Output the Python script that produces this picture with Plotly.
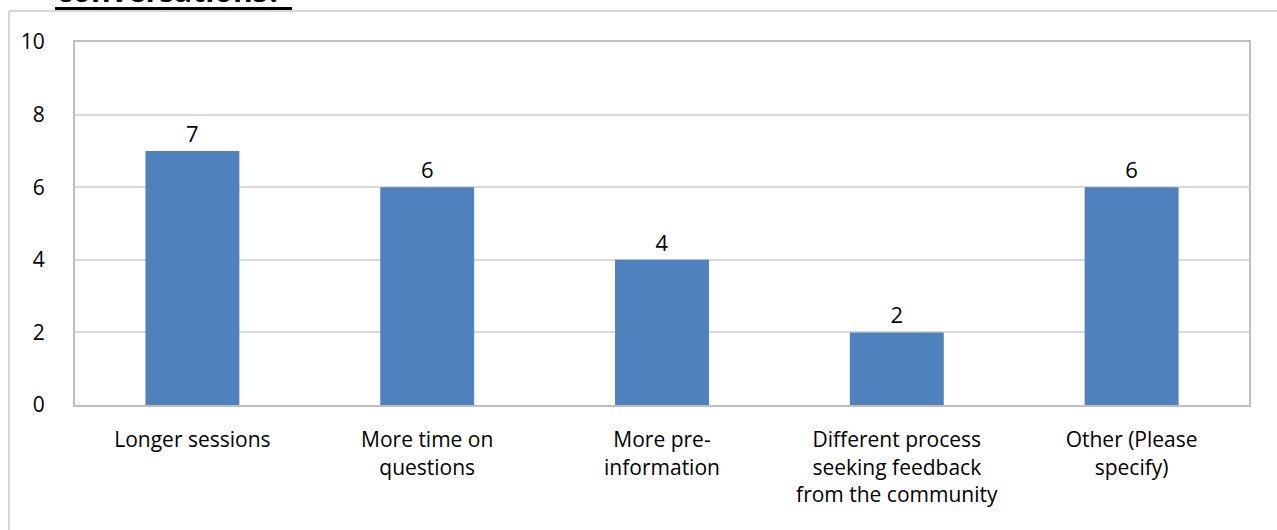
import plotly.graph_objects as go

categories = ["Longer sessions", "More time on<br>questions", "More pre-<br>information",
              "Different process<br>seeking feedback<br>from the community", "Other (Please<br>specify)"]
values = [7, 6, 4, 2, 6]
y_ticks = [0, 2, 4, 6, 8, 10]

W, H = 1277, 530
L, R, T, B = 75, 1249, 42, 405
pw, ph = R - L, B - T

def px(x):
    return (x - L) / pw

def py(y):
    return (B - y) / ph

FONT = "Open Sans"

fig = go.Figure(go.Bar(
    x=categories, y=values, width=0.4, marker=dict(color="#4F81BD", line=dict(width=0)),
    text=values, textposition="outside", cliponaxis=False,
    textfont=dict(family=FONT, size=22, color="#000000"),
))

fig.update_layout(
    width=W, height=H,
    margin=dict(l=L, r=W - R, t=T, b=H - B, pad=0),
    paper_bgcolor="white", plot_bgcolor="white",
    showlegend=False,
    bargap=0.6,
    font=dict(family=FONT, size=22, color="#000000"),
    xaxis=dict(showgrid=False, showline=True, linecolor="#BFBFBF", linewidth=2, mirror=True,
               ticks="", tickfont=dict(family=FONT, size=21), ticklabelstandoff=15,
               tickangle=0),
    yaxis=dict(range=[0, 10], tickvals=y_ticks, showgrid=True, gridcolor="#D9D9D9", gridwidth=1.5,
               showline=True, linecolor="#BFBFBF", linewidth=2, mirror=True, zeroline=False,
               ticks="", tickfont=dict(family=FONT, size=21), ticklabelstandoff=24),
    shapes=[
        # outer chart-area frame
        dict(type="line", xref="paper", yref="paper", x0=px(9), x1=px(1290), y0=py(11), y1=py(11),
             line=dict(color="#C8C8C8", width=1.5)),
        dict(type="line", xref="paper", yref="paper", x0=px(9), x1=px(9), y0=py(11), y1=py(540),
             line=dict(color="#C8C8C8", width=1.5)),
        # title underline
        dict(type="line", xref="paper", yref="paper", x0=px(55), x1=px(292), y0=py(8.5), y1=py(8.5),
             line=dict(color="#000000", width=3)),
    ],
    annotations=[
        dict(text="<b>conversations?</b>", xref="paper", yref="paper", x=px(55), y=py(13),
             xanchor="left", yanchor="bottom", showarrow=False,
             font=dict(family=FONT, size=30, color="#000000")),
    ],
)

fig.write_html("out.html", config={"displayModeBar": False},
               post_script="document.body.style.margin='0';document.body.style.padding='0';")
